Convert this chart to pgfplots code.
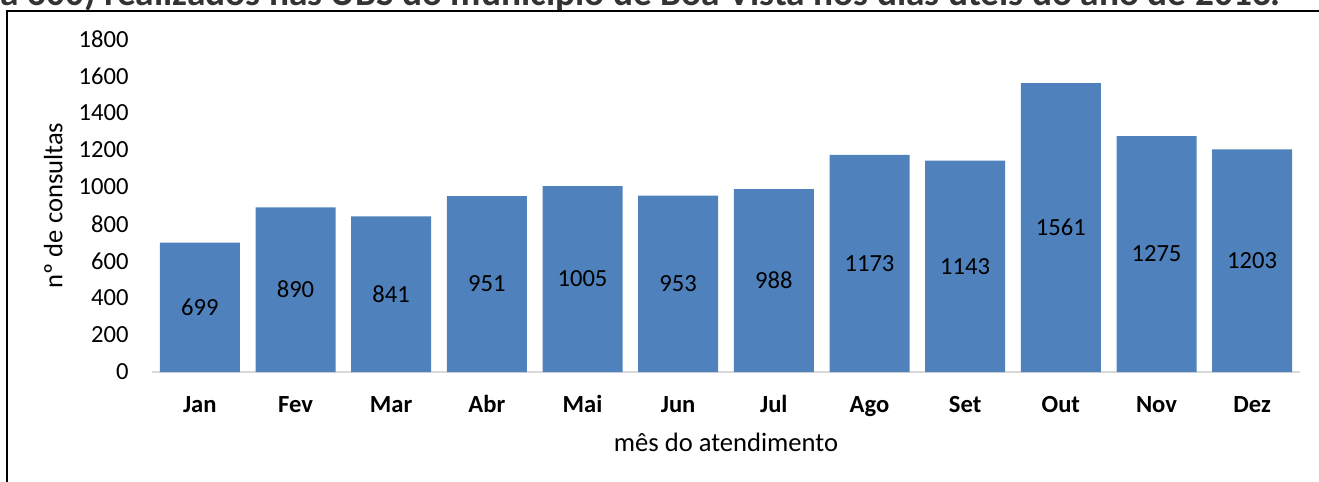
\documentclass[border=0pt]{standalone}
\usepackage{fontspec}
\setmainfont{Carlito}
\usepackage{pgfplots}
\usepackage{pgfplotstable}
\pgfplotsset{compat=1.18}
\definecolor{barBlue}{RGB}{79,129,189}
\definecolor{axisGray}{RGB}{217,217,217}

% consultas por mes
\pgfplotstableread{
idx val
0 699
1 890
2 841
3 951
4 1005
5 953
6 988
7 1173
8 1143
9 1561
10 1275
11 1203
}\consultas

\begin{document}
\begin{tikzpicture}
\useasboundingbox (0,0) rectangle (659.5pt,-241pt);
% title, cut off at the top of the picture
\begin{scope}
\clip (0,0) rectangle (659.5pt,-8pt);
\node[anchor=base west, inner sep=0, text=black!80] at (0,-2.5pt)
  {\resizebox{640pt}{!}{\bfseries a 600) realizados nas UBS do município de Boa Vista nos dias úteis do ano de 2013.}};
\end{scope}
\draw[line width=1pt] (3.5pt,-241pt) -- (3.5pt,-5.5pt) -- (659.5pt,-5.5pt);
\begin{axis}[
    at={(76pt,-186pt)}, anchor=south west,
    scale only axis,
    width=574pt, height=166.5pt,
    xmin=-0.5, xmax=11.5,
    ymin=0, ymax=1800,
    ytick={0,200,...,1800},
    xtick={0,...,11},
    xticklabels={Jan,Fev,Mar,Abr,Mai,Jun,Jul,Ago,Set,Out,Nov,Dez},
    axis x line*=bottom,
    axis y line*=left,
    x axis line style={draw=axisGray, line width=1pt, -},
    y axis line style={draw=none},
    tick style={draw=none},
    /pgf/number format/assume math mode=true,
    /pgf/number format/set thousands separator={},
    yticklabel style={font=\fontsize{12.3}{14}\selectfont, anchor=east, inner sep=0pt, xshift=-11.5pt},
    xticklabel style={font=\bfseries\fontsize{12.3}{14}\selectfont, anchor=base, inner sep=0pt, yshift=-16pt},
    xlabel={mês do atendimento},
    ylabel={nº de consultas},
    label style={font=\fontsize{13.3}{15}\selectfont},
    xlabel style={at={(axis description cs:0.5,-0.21)}, anchor=center},
    ylabel style={at={(axis description cs:-0.086,0.5)}, anchor=center},
    ybar, bar width=40pt,
    nodes near coords,
    nodes near coords style={font=\fontsize{12.3}{14}\selectfont, text=black, anchor=center,
        /pgf/number format/fixed, /pgf/number format/set thousands separator={}},
    visualization depends on={y \as \rawy},
    every node near coord/.append style={shift={(axis direction cs:0,-\rawy/2)}},
]
\addplot[fill=barBlue, draw=none] table[x=idx, y=val] {\consultas};
\end{axis}
\end{tikzpicture}
\end{document}
